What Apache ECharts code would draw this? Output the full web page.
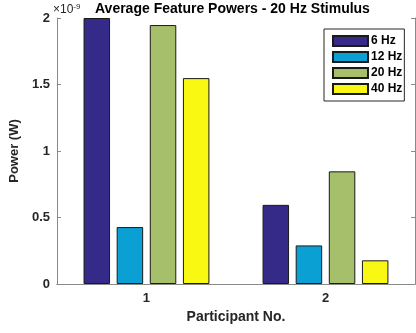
<!DOCTYPE html>
<html><head><meta charset="utf-8">
<script src="https://cdn.jsdelivr.net/npm/echarts@6/dist/echarts.min.js"></script>
<style>html,body{margin:0;padding:0;background:#fff}#c{width:416px;height:333px}</style>
</head><body><div id="c"></div>
<script>
const categories = ['1', '2'];
const seriesNames = ['6 Hz', '12 Hz', '20 Hz', '40 Hz'];
// values in units of 1e-9 W
const hz6 = [2.0, 0.595];
const hz12 = [0.428, 0.29];
const hz20 = [1.947, 0.847];
const hz40 = [1.548, 0.178];
const yTicks = [0, 0.5, 1, 1.5, 2];
const colors = ['#352a87', '#0aa0d4', '#a6bf6b', '#f8f812'];

const values = [hz6, hz12, hz20, hz40];
const font = 'Liberation Sans, Arial, sans-serif';
const chart = echarts.init(document.getElementById('c'), null, {renderer: 'canvas'});
const axisGray = '#8a8a8a';
chart.setOption({
  animation: false,
  backgroundColor: '#fff',
  textStyle: {fontFamily: font},
  title: {
    text: 'Average Feature Powers - 20 Hz Stimulus',
    left: 90, top: 2, padding: [0, 0, 0, 5],
    textStyle: {fontSize: 14, fontWeight: 'bold', color: '#000', fontFamily: font}
  },
  graphic: [{
    type: 'text', left: 53, top: 3,
    style: {
      text: '×10{s|-9}',
      rich: {s: {fontSize: 8, verticalAlign: 'top', padding: [0,0,6,0], fill: '#262626'}},
      font: '12px ' + font, fill: '#262626'
    }
  }],
  legend: {
    orient: 'vertical', left: 324, top: 29,
    padding: [6, 2, 6, 8], itemGap: 4, itemWidth: 35, itemHeight: 10,
    backgroundColor: '#fff', borderColor: '#262626', borderWidth: 1,
    icon: 'rect',
    textStyle: {fontSize: 12, fontWeight: 'bold', color: '#000', fontFamily: font, padding: [0,0,0,-2]},
    data: seriesNames
  },
  grid: {left: 52, right: 1, top: 18, bottom: 49, containLabel: false},
  xAxis: [{
    type: 'category', data: categories, position: 'bottom',
    axisLine: {lineStyle: {color: axisGray, width: 1}},
    axisTick: {inside: true, alignWithLabel: true, length: 4, lineStyle: {color: axisGray}},
    axisLabel: {fontSize: 13, fontWeight: 'bold', color: '#262626', margin: 8},
    name: 'Participant No.', nameLocation: 'middle', nameGap: 26,
    nameTextStyle: {fontSize: 14, fontWeight: 'bold', color: '#262626'}
  }, {
    type: 'category', data: categories, position: 'top',
    axisLine: {lineStyle: {color: axisGray, width: 1}},
    axisTick: {inside: true, alignWithLabel: true, length: 4, lineStyle: {color: axisGray}},
    axisLabel: {show: false}
  }],
  yAxis: [{
    type: 'value', min: 0, max: 2, interval: 0.5,
    axisLine: {show: true, lineStyle: {color: axisGray}},
    axisTick: {show: true, inside: true, length: 4, lineStyle: {color: axisGray}},
    splitLine: {show: false},
    axisLabel: {fontSize: 13, fontWeight: 'bold', color: '#262626', margin: 7,
      formatter: v => String(yTicks.find(t => Math.abs(t - v) < 1e-9) ?? v)},
    name: 'Power (W)', nameLocation: 'middle', nameGap: 29,
    nameTextStyle: {fontSize: 13, fontWeight: 'bold', color: '#262626'}
  }, {
    type: 'value', min: 0, max: 2, interval: 0.5, position: 'right',
    axisLine: {show: true, lineStyle: {color: axisGray}},
    axisTick: {show: true, inside: true, length: 4, lineStyle: {color: axisGray}},
    splitLine: {show: false}, axisLabel: {show: false}
  }],
  series: seriesNames.map((n, i) => ({
    name: n, type: 'bar', data: values[i], xAxisIndex: 0, yAxisIndex: 0,
    barWidth: 26.5, barGap: '25%',
    itemStyle: {color: colors[i], borderColor: '#1a1a1a', borderWidth: 1}
  }))
});
</script></body></html>
